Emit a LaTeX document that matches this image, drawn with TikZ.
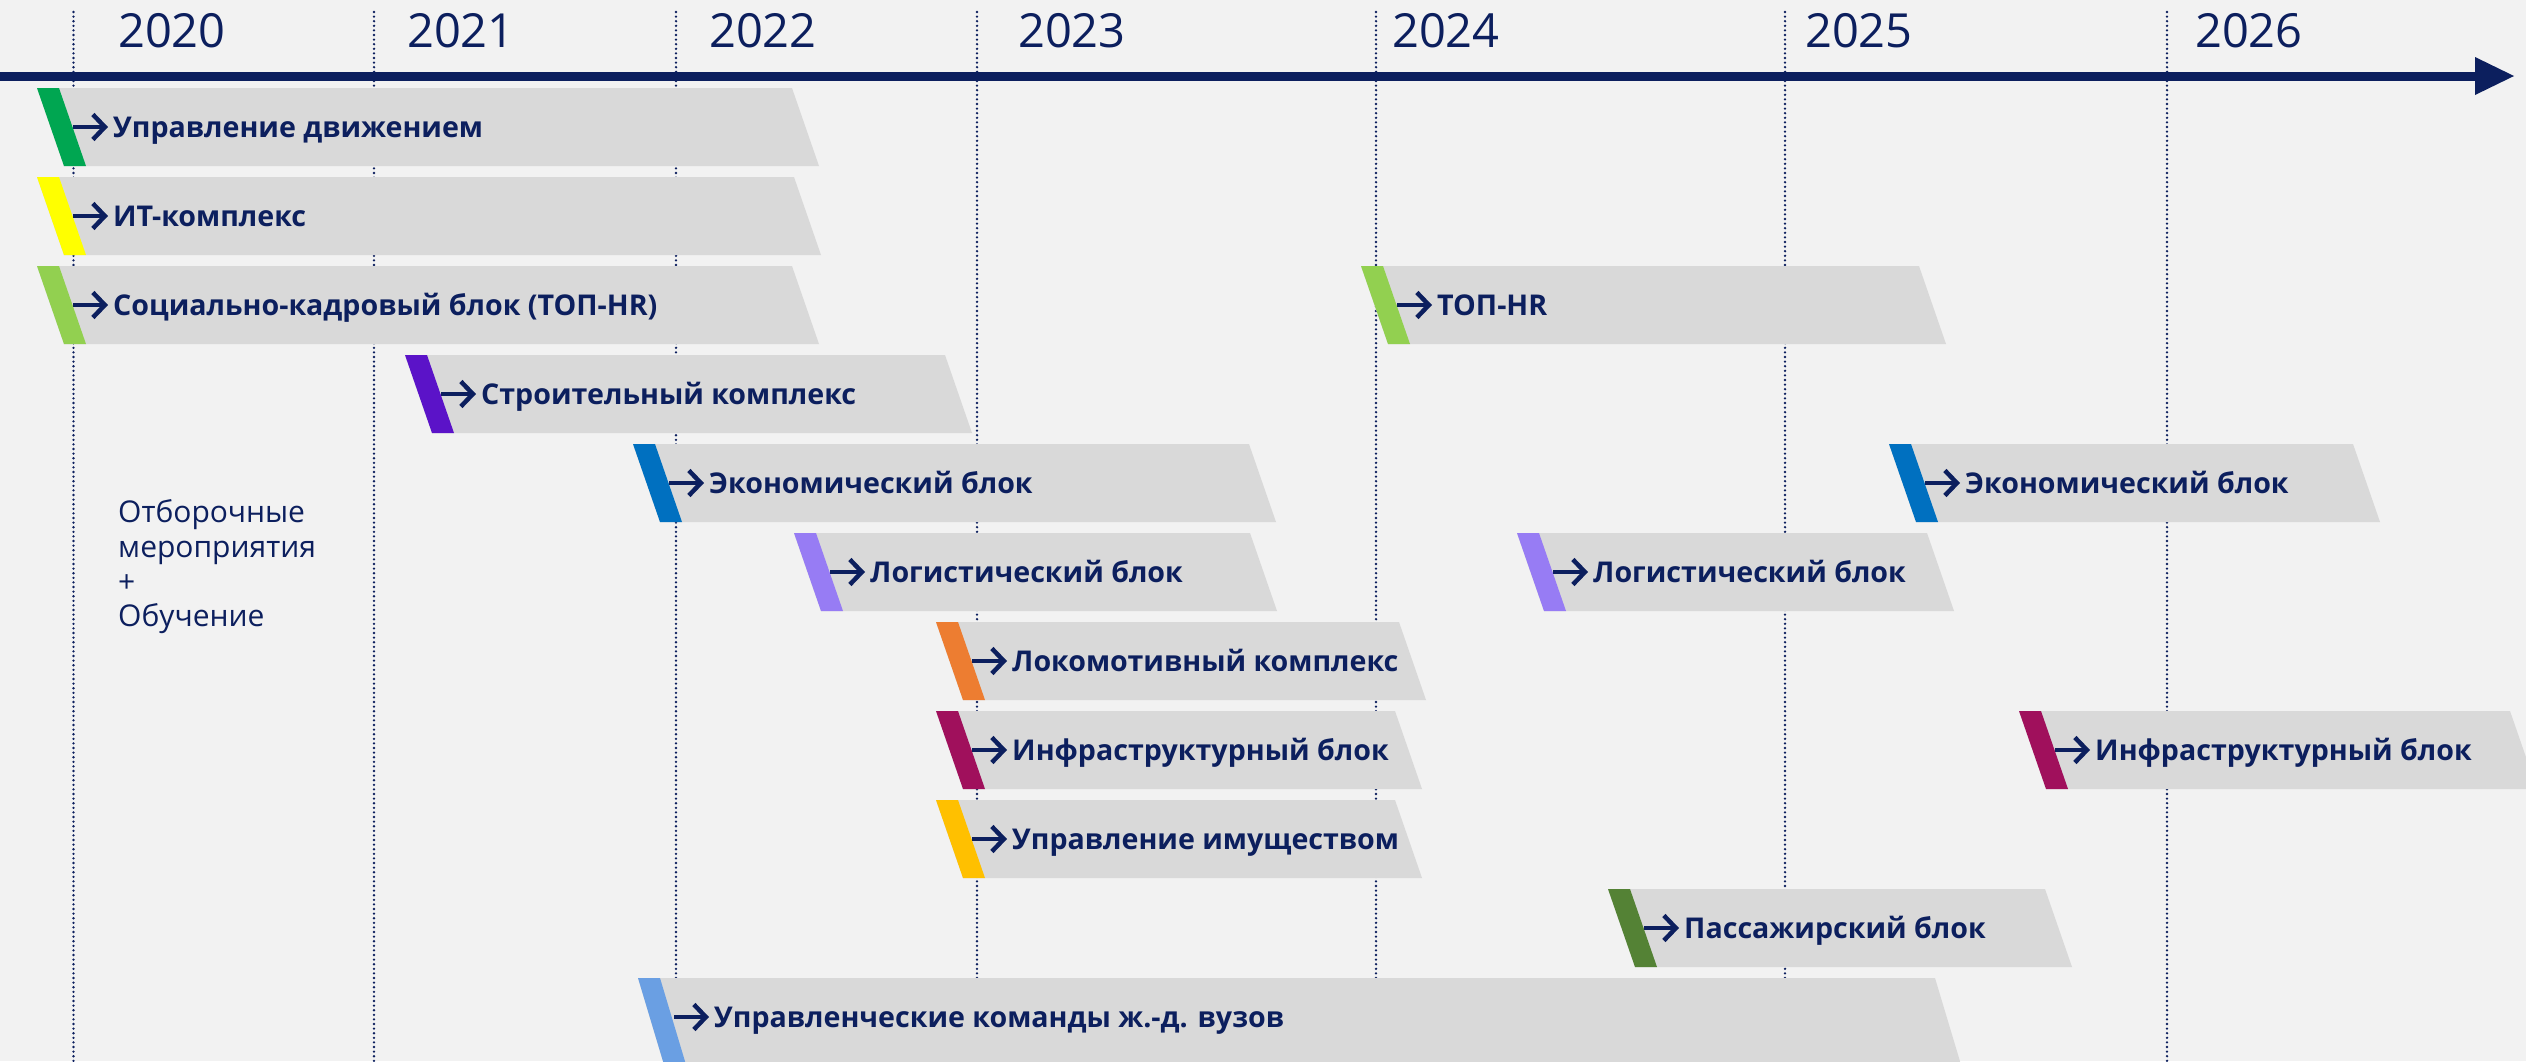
\documentclass[tikz,border=0pt]{standalone}
\usepackage{fontspec}
\setmainfont{Open Sans}
\usetikzlibrary{arrows.meta}
\definecolor{navy}{HTML}{0C1F5E}
\definecolor{bgGrey}{HTML}{F2F2F2}
\definecolor{barGrey}{HTML}{D9D9D9}
\definecolor{motionGreen}{HTML}{00A651}
\definecolor{itYellow}{HTML}{FFFF00}
\definecolor{hrGreen}{HTML}{92D050}
\definecolor{buildViolet}{HTML}{5B13C8}
\definecolor{econBlue}{HTML}{0070C0}
\definecolor{logLavender}{HTML}{977CF4}
\definecolor{locoOrange}{HTML}{ED7D31}
\definecolor{infraMagenta}{HTML}{A0105C}
\definecolor{propAmber}{HTML}{FFC000}
\definecolor{passGreen}{HTML}{548235}
\definecolor{uniBlue}{HTML}{6A9FE3}
\tikzset{%
  % Specifications for style of nodes and lines:
  yearLabel/.style = {anchor=base west, inner sep=0pt, text=navy,
                      font=\fontsize{47}{56}\selectfont},
  barLabel/.style = {anchor=base west, inner sep=0pt, text=navy,
                     font=\fontsize{28.6}{34}\selectfont\bfseries},
  noteLabel/.style = {anchor=west, inner sep=0pt, text=navy, align=left,
                      font=\fontsize{30}{34.7}\selectfont},
  yearLine/.style = {navy, line width=2.6pt, line cap=round, dash pattern=on 0pt off 4.6pt},
  timeAxis/.style = {navy, line width=9pt, -{Triangle[length=39pt, width=38pt, line width=0pt]}},
  barArrow/.style = {navy, line width=4.5pt, -{Straight Barb[length=12pt, width=25pt]}},
}
% one bar: name, row, left x, right x, colour, text
\def\barh{78}
\newcommand{\trackbar}[6]{%
  \pgfmathsetmacro{\rowtop}{88+89*(#2-1)}
  \fill[barGrey] (#3,\rowtop) -- (#4,\rowtop) -- ({#4+27},{\rowtop+\barh}) -- ({#3+27},{\rowtop+\barh}) -- cycle;
  \fill[#5] (#3,\rowtop) -- ({#3+22},\rowtop) -- ({#3+49},{\rowtop+\barh}) -- ({#3+27},{\rowtop+\barh}) -- cycle;
  \draw[barArrow] ({#3+36},{\rowtop+39}) -- ({#3+71},{\rowtop+39});
  \node[barLabel] (#1) at ({#3+76},{\rowtop+49}) {#6};
}

\begin{document}
\begin{tikzpicture}[x=1pt, y=-1pt]
  \useasboundingbox (0,0) rectangle (2526,1061);
  \fill[bgGrey] (0,0) rectangle (2526,1061);
  \clip (0,0) rectangle (2526,1061);

  % Year lines and labels
  \foreach \xl/\xt/\yr in {73.5/118/2020, 374/407/2021, 676/709/2022, 977/1018/2023,
                           1376/1392/2024, 1785/1805/2025, 2167/2195/2026} {
    \draw[yearLine] (\xl,12) -- (\xl,1061);
    \node[yearLabel] (year\yr) at (\xt,47) {\yr};
  }

  % Time axis
  \coordinate (axisStart) at (0,76);
  \coordinate (axisEnd) at (2514,76);
  \draw[timeAxis] (axisStart) -- (axisEnd);

  % Bars
  \trackbar{motion}{1}{37}{792}{motionGreen}{Управление движением}
  \trackbar{itComplex}{2}{37}{794}{itYellow}{ИТ-комплекс}
  \trackbar{socialHr}{3}{37}{792}{hrGreen}{Социально-кадровый блок (ТОП-HR)}
  \trackbar{topHr}{3}{1361}{1919}{hrGreen}{ТОП-HR}
  \trackbar{building}{4}{405}{945}{buildViolet}{Строительный комплекс}
  \trackbar{economy}{5}{633}{1249}{econBlue}{Экономический блок}
  \trackbar{economyTwo}{5}{1889}{2353}{econBlue}{Экономический блок}
  \trackbar{logistics}{6}{794}{1250}{logLavender}{Логистический блок}
  \trackbar{logisticsTwo}{6}{1517}{1927}{logLavender}{Логистический блок}
  \trackbar{loco}{7}{936}{1399}{locoOrange}{Локомотивный комплекс}
  \trackbar{infra}{8}{936}{1395}{infraMagenta}{Инфраструктурный блок}
  \trackbar{infraTwo}{8}{2019}{2510}{infraMagenta}{Инфраструктурный блок}
  \trackbar{property}{9}{936}{1395}{propAmber}{Управление имуществом}
  \trackbar{passenger}{10}{1608}{2045}{passGreen}{Пассажирский блок}
  \def\barh{90}
  \trackbar{teams}{11}{638}{1935}{uniBlue}{Управленческие команды ж.-д. вузов}

  % Note
  \node[noteLabel] (note) at (118,567) {Отборочные\\мероприятия\\+\\Обучение};
\end{tikzpicture}
\end{document}
